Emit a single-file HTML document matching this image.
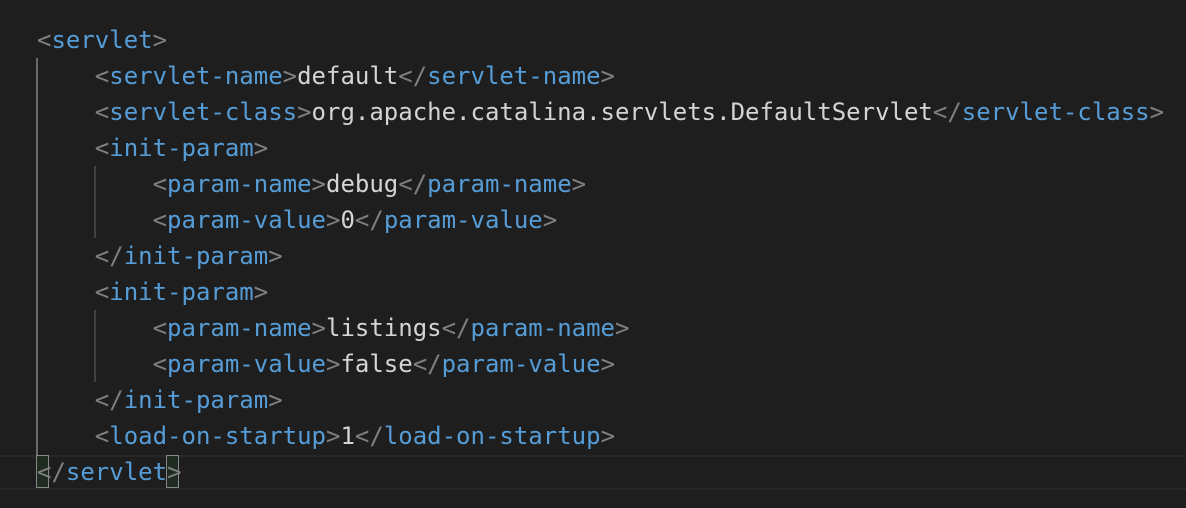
<!DOCTYPE html>
<html><head><meta charset="utf-8"><style>
body{margin:0;width:1186px;height:508px;background:#1e1e1e;overflow:hidden;position:relative}
.code{position:absolute;left:37px;top:22px;font-family:"DejaVu Sans Mono","Liberation Mono",monospace;font-size:24px;line-height:36px;color:#d4d4d4;white-space:pre}
.b{color:#808080}.t{color:#569cd6}
.g{position:absolute;width:2px;background:#404040}
.hl{position:absolute;left:0;width:1186px;top:455px;height:31px;border-top:2px solid #282828;border-bottom:2px solid #282828}
.bx{position:absolute;top:455px;height:31px;width:11px;border:1px solid #888;background:#1f2a20}
</style></head><body>
<div class="hl"></div>
<div class="bx" style="left:36px"></div>
<div class="bx" style="left:166px"></div>
<div class="g" style="left:36px;top:58px;height:397px;background:#6a6a6a"></div>
<div class="g" style="left:94px;top:166px;height:72px"></div>
<div class="g" style="left:94px;top:310px;height:72px"></div>
<div class="code"><span class="b">&lt;</span><span class="t">servlet</span><span class="b">&gt;</span>
    <span class="b">&lt;</span><span class="t">servlet-name</span><span class="b">&gt;</span>default<span class="b">&lt;/</span><span class="t">servlet-name</span><span class="b">&gt;</span>
    <span class="b">&lt;</span><span class="t">servlet-class</span><span class="b">&gt;</span>org.apache.catalina.servlets.DefaultServlet<span class="b">&lt;/</span><span class="t">servlet-class</span><span class="b">&gt;</span>
    <span class="b">&lt;</span><span class="t">init-param</span><span class="b">&gt;</span>
        <span class="b">&lt;</span><span class="t">param-name</span><span class="b">&gt;</span>debug<span class="b">&lt;/</span><span class="t">param-name</span><span class="b">&gt;</span>
        <span class="b">&lt;</span><span class="t">param-value</span><span class="b">&gt;</span>0<span class="b">&lt;/</span><span class="t">param-value</span><span class="b">&gt;</span>
    <span class="b">&lt;/</span><span class="t">init-param</span><span class="b">&gt;</span>
    <span class="b">&lt;</span><span class="t">init-param</span><span class="b">&gt;</span>
        <span class="b">&lt;</span><span class="t">param-name</span><span class="b">&gt;</span>listings<span class="b">&lt;/</span><span class="t">param-name</span><span class="b">&gt;</span>
        <span class="b">&lt;</span><span class="t">param-value</span><span class="b">&gt;</span>false<span class="b">&lt;/</span><span class="t">param-value</span><span class="b">&gt;</span>
    <span class="b">&lt;/</span><span class="t">init-param</span><span class="b">&gt;</span>
    <span class="b">&lt;</span><span class="t">load-on-startup</span><span class="b">&gt;</span>1<span class="b">&lt;/</span><span class="t">load-on-startup</span><span class="b">&gt;</span>
<span class="b">&lt;/</span><span class="t">servlet</span><span class="b">&gt;</span></div>
</body></html>
